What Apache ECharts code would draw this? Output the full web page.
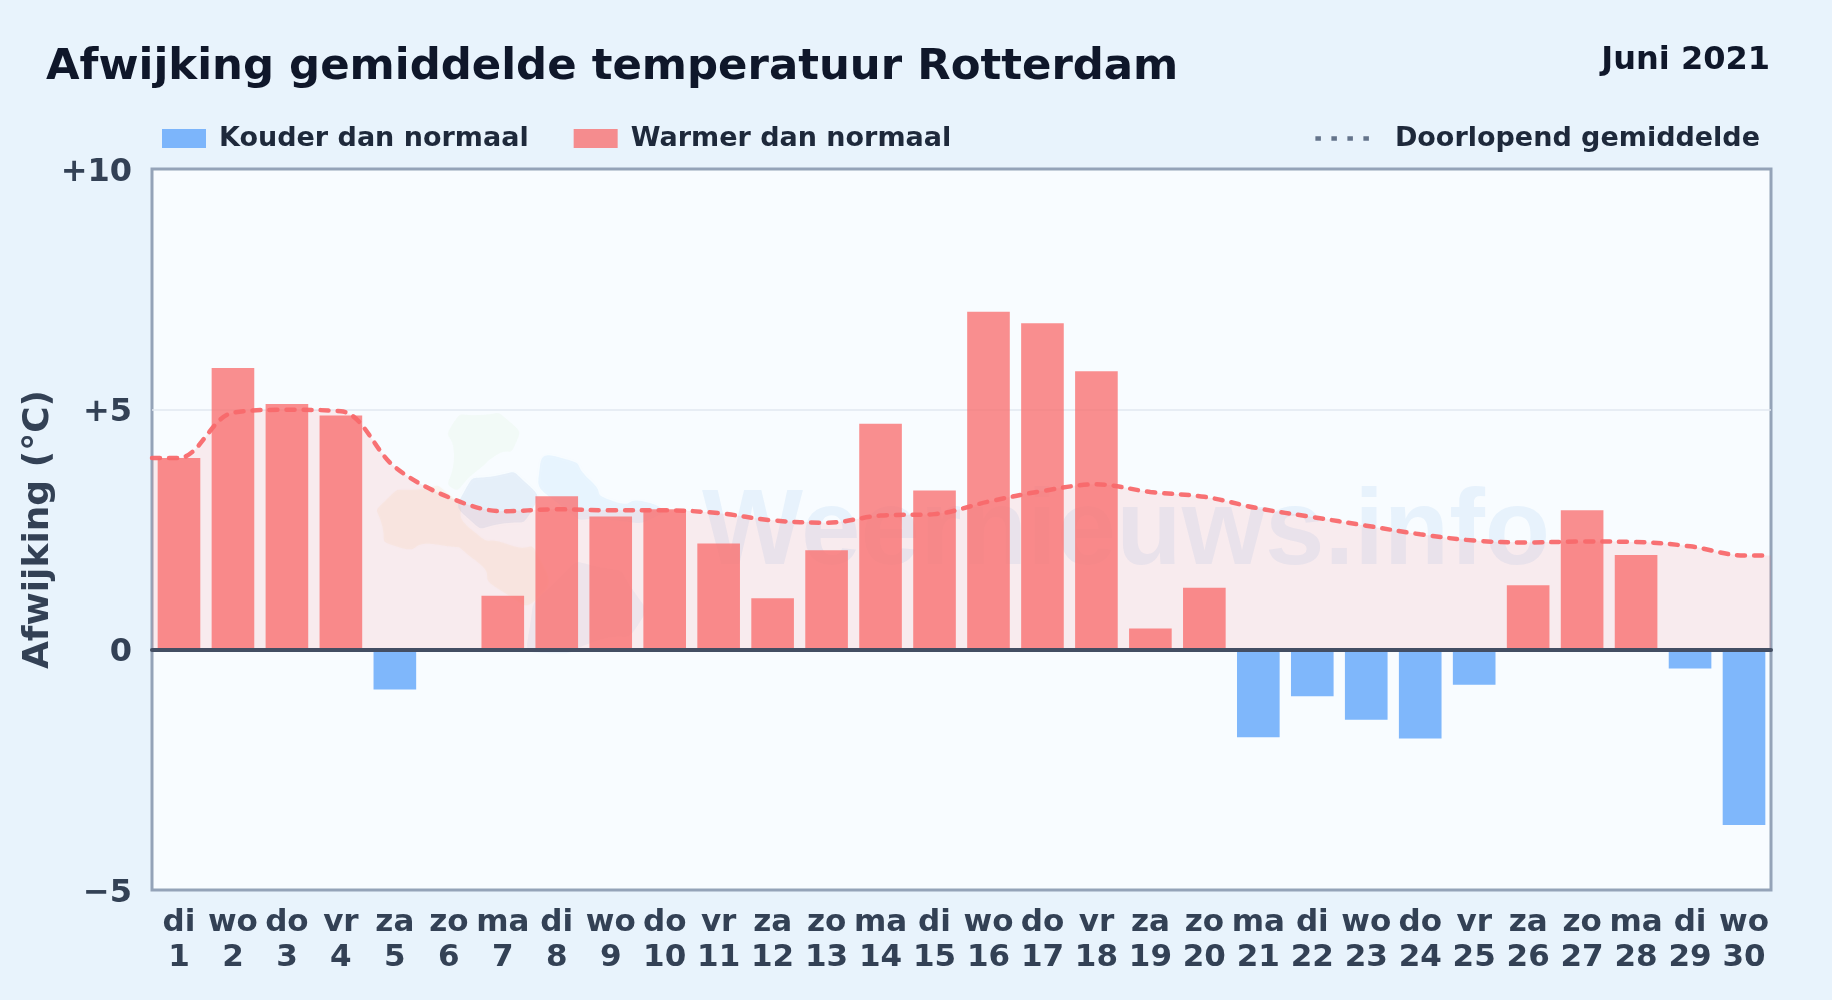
<!DOCTYPE html>
<html><head><meta charset="utf-8">
<style>html,body{margin:0;padding:0;background:#e8f3fc}#c{width:1832px;height:1000px}</style>
<script src="https://cdn.jsdelivr.net/npm/echarts@6/dist/echarts.min.js"></script></head>
<body><div id="c"></div>
<script>
const weekdays = ['di','wo','do','vr','za','zo','ma','di','wo','do','vr','za','zo','ma','di','wo','do','vr','za','zo','ma','di','wo','do','vr','za','zo','ma','di','wo'];
const days = [1,2,3,4,5,6,7,8,9,10,11,12,13,14,15,16,17,18,19,20,21,22,23,24,25,26,27,28,29,30];
const warmer = [3.99,5.86,5.11,4.87,null,null,1.12,3.19,2.77,2.92,2.21,1.07,2.07,4.70,3.31,7.03,6.79,5.79,0.44,1.29,null,null,null,null,null,1.34,2.90,1.97,null,null];
const colder = [null,null,null,null,-0.83,null,null,null,null,null,null,null,null,null,null,null,null,null,null,null,-1.82,-0.97,-1.46,-1.85,-0.73,null,null,null,-0.39,-3.65];
const runningMean = [3.99,4.93,4.99,4.96,3.80,3.17,2.88,2.92,2.90,2.90,2.84,2.69,2.64,2.79,2.82,3.08,3.30,3.44,3.28,3.18,2.94,2.76,2.58,2.40,2.27,2.23,2.25,2.24,2.15,1.96];
const yTickLabels = {'10':'+10','5':'+5','0':'0','-5':'−5'};
const categories = days.map((d,i)=>weekdays[i]+'\n'+d);
const linePoints = [[0.5,runningMean[0]]].concat(runningMean.map((v,i)=>[days[i],v]),[[30.5,runningMean[29]]]);
const font = '"DejaVu Sans"';
const NAMES = ['Kouder dan normaal','Warmer dan normaal','Doorlopend gemiddelde'];
function blob(points,fill){return {type:'polygon',z:1,silent:true,shape:{points,smooth:0.8,smoothConstraint:false},style:{fill,shadowBlur:6,shadowColor:fill}};}
const chart = echarts.init(document.getElementById('c'),null,{renderer:'canvas'});
chart.setOption({
  animation:false,
  backgroundColor:'#e8f3fc',
  title:[
    {text:'Afwijking gemiddelde temperatuur Rotterdam',left:46,top:46,padding:0,textStyle:{fontFamily:font,fontWeight:'bold',fontSize:43.4,color:'#0f172a'}},
    {text:'Juni 2021',right:62,top:45,padding:0,textStyle:{fontFamily:font,fontWeight:'bold',fontSize:32,color:'#0f172a'}}
  ],
  legend:[
    {data:[NAMES[0],NAMES[1]],left:162,top:125,padding:0,itemWidth:44,itemHeight:19,itemGap:45,icon:'rect',
     textStyle:{fontFamily:font,fontWeight:'bold',fontSize:27,color:'#1e293b',padding:[0,0,0,8]}},
    {data:[{name:NAMES[2],itemStyle:{opacity:0},lineStyle:{color:'#64748b',type:[5.5,10.5],width:4.5,cap:'butt'}}],right:72,top:125,padding:0,itemWidth:53.5,itemHeight:19,
     textStyle:{fontFamily:font,fontWeight:'bold',fontSize:27,color:'#1e293b',padding:[0,0,0,21]}}
  ],
  grid:{left:152,top:169,width:1619,height:721,show:true,backgroundColor:'#f8fcff',borderColor:'#94a3b8',borderWidth:3},
  xAxis:[
    {type:'category',data:categories,position:'bottom',axisLine:{show:false,onZero:false},axisTick:{show:false},
     axisLabel:{interval:0,margin:15,fontFamily:font,fontWeight:'bold',fontSize:31,lineHeight:35,color:'#334155'}},
    {type:'value',min:0.5,max:30.5,position:'bottom',z:6,axisLine:{show:true,onZero:true,lineStyle:{color:'#434e63',width:4}},axisTick:{show:false},axisLabel:{show:false},splitLine:{show:false}}
  ],
  yAxis:{type:'value',min:-5,max:10,interval:5,name:'Afwijking (°C)',nameLocation:'middle',nameGap:95,nameRotate:90,nameMoveOverlap:false,
    nameTextStyle:{fontFamily:font,fontWeight:'bold',fontSize:36,color:'#334155'},
    axisLine:{show:false},axisTick:{show:false},
    axisLabel:{margin:20,lineHeight:7,verticalAlign:'top',fontFamily:font,fontWeight:'bold',fontSize:32,color:'#334155',formatter:v=>yTickLabels[String(v)]},
    splitLine:{showMinLine:false,showMaxLine:false,lineStyle:{color:'#e2e8f0',width:1.5}}},
  graphic:[
    blob([[452,425],[480,415],[510,422],[515,445],[495,456],[478,470],[452,488],[454,455]],'rgba(187,230,170,0.08)'),
    blob([[384,502],[420,489],[450,495],[472,530],[510,545],[538,555],[538,598],[500,590],[475,560],[440,545],[395,546],[382,525]],'rgba(245,190,120,0.10)'),
    blob([[464,492],[495,476],[525,482],[532,510],[500,524],[470,520]],'rgba(110,160,215,0.12)'),
    blob([[540,466],[565,459],[590,480],[610,500],[650,503],[660,515],[610,520],[560,505]],'rgba(125,195,250,0.12)'),
    blob([[528,638],[560,577],[600,567],[633,590],[638,625],[600,640],[545,653]],'rgba(110,160,215,0.08)'),
    {type:'text',z:1,silent:true,left:702,top:481,style:{text:'Weernieuws.info',fontFamily:'"Liberation Sans"',fontWeight:'bold',fontSize:107,fill:'rgba(100,165,225,0.11)'}}
  ],
  series:[
    {name:NAMES[0],type:'bar',data:colder,barGap:'-100%',barCategoryGap:'21%',xAxisIndex:0,itemStyle:{color:'rgba(96,165,250,0.8)'}},
    {name:NAMES[1],type:'bar',data:warmer,barGap:'-100%',barCategoryGap:'21%',xAxisIndex:0,itemStyle:{color:'rgba(250,105,105,0.75)'}},
    {name:NAMES[2],type:'line',data:linePoints,xAxisIndex:1,symbol:'none',smooth:0.35,z:4,
     lineStyle:{color:'rgba(248,105,108,0.95)',width:4.5,type:[8,9],cap:'round'},areaStyle:{color:'rgba(255,107,107,0.16)'}}
  ]
});
</script></body></html>
